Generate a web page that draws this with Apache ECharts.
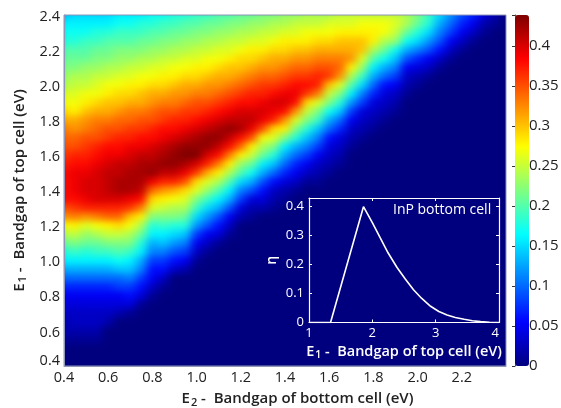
<!DOCTYPE html>
<html><head><meta charset="utf-8">
<style>
html,body{margin:0;padding:0;background:#fff;width:561px;height:408px;overflow:hidden}
#clip{position:absolute;left:64px;top:15px;width:442px;height:351px;overflow:hidden;background:#00007f}
#heat{position:absolute;left:-30px;top:-30px;width:502px;height:411px;filter:url(#soft)}
#main{position:absolute;left:0;top:0;width:561px;height:408px}
</style>
<script src="https://cdn.jsdelivr.net/npm/echarts@6/dist/echarts.min.js"></script>
</head><body>
<svg width="0" height="0" style="position:absolute"><filter id="soft" x="-10%" y="-10%" width="120%" height="120%" color-interpolation-filters="sRGB"><feGaussianBlur stdDeviation="4.5 3"/></filter></svg>
<div id="clip"><div id="heat"></div></div>
<div id="main"></div>
<script>
// Efficiency in percent. Each list is one E2 column, read from E1 = 2.40 downward in 0.05 steps; a list stops where the map turns to zero.
const e2_040=[14,16,17,18,20,21,22,23,24,26,27,29,31,33,34,35,36,37,38,38,38,38,35,32,27,24,21,18,16,13,10,7,5,4,3,2,2,1];
const e2_045=[15,16,17,18,20,21,22,24,25,26,27,28,31,32,34,35,37,38,39,39,39,38,36,33,28,25,22,19,16,13,10,7,5,4,3,3,2,1];
const e2_050=[15,16,17,19,20,21,23,24,25,27,28,30,32,33,35,36,37,38,39,40,40,39,37,32,26,23,21,18,16,13,10,7,5,4,3,3,2,1];
const e2_055=[15,16,18,19,21,22,23,25,26,27,29,31,33,34,35,37,38,39,40,40,40,40,37,33,27,24,21,19,16,13,10,7,5,4,3,3,2,1];
const e2_060=[15,16,18,20,21,22,24,25,27,28,30,31,33,35,36,38,39,40,41,41,41,40,37,34,28,25,22,19,16,13,10,7,5,4,3,2];
const e2_065=[16,17,19,20,22,23,24,26,27,29,30,32,34,35,37,38,39,41,41,42,42,40,37,34,29,25,22,20,17,14,10,8,5,4,2];
const e2_070=[16,17,19,20,22,23,25,26,28,29,31,33,34,36,37,39,40,41,42,42,42,39,36,30,27,24,22,19,16,14,11,8,6,4,1];
const e2_075=[16,18,19,21,22,24,25,27,28,30,31,33,35,36,38,39,41,42,42,42,41,38,33,28,24,21,18,16,13,11,8,6,4,1];
const e2_080=[17,18,20,21,23,24,26,27,29,31,32,34,35,37,38,40,41,42,43,39,34,29,26,22,18,16,13,11,8,6,5,3,1];
const e2_085=[17,19,20,22,23,25,26,28,29,31,33,35,36,38,39,41,42,43,41,37,32,28,25,22,19,16,14,11,8,6,3,1];
const e2_090=[18,19,21,22,24,25,27,28,30,32,33,35,37,38,40,42,43,43,41,37,31,27,24,22,18,15,12,9,6,3];
const e2_095=[18,20,21,23,24,26,27,29,31,32,34,36,37,39,41,43,44,42,39,35,29,26,24,21,18,14,11,8,5,2];
const e2_100=[19,20,22,23,25,26,28,29,31,33,35,36,38,40,42,43,44,40,36,29,26,22,19,15,12,8,5,3,1];
const e2_105=[19,21,22,24,25,27,28,30,32,33,35,37,39,41,43,43,40,37,31,26,23,19,15,12,9,5,3,1];
const e2_110=[20,21,23,24,26,27,29,31,32,34,36,38,40,42,43,41,38,33,28,24,20,16,13,9,6,4,1];
const e2_115=[20,22,23,25,26,28,30,31,33,35,37,39,41,43,41,38,33,28,24,20,16,13,9,5,3,1];
const e2_120=[21,22,24,25,27,29,30,32,34,36,38,40,41,42,38,34,28,23,20,15,11,8,4,2];
const e2_125=[21,23,24,26,28,29,31,33,35,37,38,40,41,39,35,28,25,21,17,13,9,4,2,1];
const e2_130=[22,23,25,26,28,30,32,34,36,37,39,40,39,35,27,24,21,16,13,9,6,4,2];
const e2_135=[22,24,25,27,29,31,32,34,36,38,40,39,37,29,26,22,18,14,10,6,3,2,1];
const e2_140=[23,24,26,28,29,31,33,35,37,39,40,38,32,28,22,16,13,10,7,4,2,1];
const e2_145=[23,25,26,28,30,32,34,36,38,39,38,32,26,22,18,13,10,7,5,3,1];
const e2_150=[24,25,27,28,30,32,34,36,38,36,29,25,22,18,14,11,8,5,3,1];
const e2_155=[24,25,27,29,31,33,35,37,37,33,26,22,19,14,11,8,5,3,2,1];
const e2_160=[24,26,27,29,31,33,35,36,30,25,22,17,13,10,6,4,3,2,1];
const e2_165=[25,26,28,30,31,33,34,32,26,22,18,14,10,7,4,3,2,1];
const e2_170=[25,26,28,30,31,32,28,24,20,16,12,8,5,3,2,1];
const e2_175=[25,27,28,30,30,26,23,19,15,11,8,4,3,2,1];
const e2_180=[25,27,28,28,24,20,16,13,10,7,4,3,2,1];
const e2_185=[25,27,27,24,21,17,13,10,6,4,3,2,1];
const e2_190=[25,26,25,23,17,14,11,8,5,3,2,1];
const e2_195=[24,24,21,17,13,9,5,3,2,1];
const e2_200=[22,21,18,15,11,7,4,2,1];
const e2_205=[19,18,15,12,9,5,3,1];
const e2_210=[15,13,11,9,6,3,1];
const e2_215=[12,10,8,5,3,1];
const e2_220=[9,7,5,3,1];
const e2_225=[7,5,3,1];
const e2_230=[4,2,1];
const e2_235=[2,1];
const e2_240=[0];
const e2Columns=[e2_040,e2_045,e2_050,e2_055,e2_060,e2_065,e2_070,e2_075,e2_080,e2_085,e2_090,e2_095,e2_100,e2_105,e2_110,e2_115,e2_120,e2_125,e2_130,e2_135,e2_140,e2_145,e2_150,e2_155,e2_160,e2_165,e2_170,e2_175,e2_180,e2_185,e2_190,e2_195,e2_200,e2_205,e2_210,e2_215,e2_220,e2_225,e2_230,e2_235,e2_240];
const e2Categories=[0.40,0.45,0.50,0.55,0.60,0.65,0.70,0.75,0.80,0.85,0.90,0.95,1.00,1.05,1.10,1.15,1.20,1.25,1.30,1.35,1.40,1.45,1.50,1.55,1.60,1.65,1.70,1.75,1.80,1.85,1.90,1.95,2.00,2.05,2.10,2.15,2.20,2.25,2.30,2.35,2.40];
const e1Categories=[2.40,2.35,2.30,2.25,2.20,2.15,2.10,2.05,2.00,1.95,1.90,1.85,1.80,1.75,1.70,1.65,1.60,1.55,1.50,1.45,1.40,1.35,1.30,1.25,1.20,1.15,1.10,1.05,1.00,0.95,0.90,0.85,0.80,0.75,0.70,0.65,0.60,0.55,0.50,0.45,0.40];
const colorbarMax=0.439;
const colorbarTicks=['0','0.05','0.1','0.15','0.2','0.25','0.3','0.35','0.4'];
const insetE1=[1,1.34,1.86,2,2.125,2.25,2.39,2.52,2.65,2.78,2.92,3.05,3.18,3.31,3.45,3.58,3.71,3.85,4];
const insetEta=[0,0,0.4,0.345,0.292,0.24,0.19,0.15,0.113,0.083,0.056,0.038,0.026,0.017,0.011,0.006,0.003,0.001,0];
const jet=['#00007f','#0000ff','#0080ff','#00ffff','#80ff80','#ffff00','#ff8000','#ff0000','#7f0000'];
const font='"Open Sans",sans-serif';

const cells=[];
e2Columns.forEach((col,i)=>{e1Categories.forEach((e1,j)=>{cells.push([i,j,(col[j]||0)/100]);});});

const heat=echarts.init(document.getElementById('heat'),null,{renderer:'canvas'});
heat.setOption({
  animation:false,
  backgroundColor:'#00007f',
  grid:{left:30-5.525,top:30-4.39,width:442+11.05,height:351+8.78,outerBoundsMode:'none'},
  xAxis:{type:'category',data:e2Categories,show:false},
  yAxis:{type:'category',data:e1Categories,inverse:true,show:false},
  visualMap:{show:false,type:'continuous',min:0,max:colorbarMax,inRange:{color:jet},seriesIndex:0},
  series:[{type:'heatmap',data:cells,progressive:0,silent:true,itemStyle:{borderWidth:0}}]
});

const name2='{n|E}{s|2}{n| -  Bandgap of bottom cell (eV)}';
const name1='{n|E}{s|1}{n| -  Bandgap of top cell (eV)}';
function rich(color,size){return {n:{fontFamily:font,fontSize:size,fontWeight:600,color:color},
  s:{fontFamily:font,fontSize:size-4,fontWeight:600,color:color,verticalAlign:'bottom',padding:[7,0,0,1]}};}
const yTick={fontFamily:font,fontSize:14.5,color:'#222'};
const chart=echarts.init(document.getElementById('main'),null,{renderer:'canvas'});
chart.setOption({
  animation:false,
  backgroundColor:'transparent',
  textStyle:{fontFamily:font},
  grid:[
    {left:64,top:15,width:442,height:351,outerBoundsMode:'none',show:true,backgroundColor:'transparent',borderColor:'#8f96b8',borderWidth:1},
    {left:515,top:15,width:14,height:351,outerBoundsMode:'none',show:false},
    {left:309,top:198,width:190,height:124.5,outerBoundsMode:'none',show:false}
  ],
  xAxis:[
    {gridIndex:0,type:'value',min:0.4,max:2.4,interval:0.2,splitLine:{show:false},axisTick:{show:false},
     axisLine:{onZero:false,lineStyle:{color:'#8f96b8'}},
     axisLabel:{color:'#222',fontSize:14.5,margin:4,formatter:v=>v>2.3?'':v.toFixed(1)},
     name:name2,nameLocation:'middle',nameGap:24,nameTextStyle:{padding:[0,0,0,25],rich:rich('#222',15)}},
    {gridIndex:1,type:'value',min:0,max:1,show:false},
    {gridIndex:2,type:'value',min:1,max:4,interval:1,splitLine:{show:false},
     axisLine:{onZero:false,lineStyle:{color:'#fff',width:1.2}},
     axisTick:{inside:true,length:3,lineStyle:{color:'#fff'}},
     axisLabel:{color:'#fff',fontSize:13,margin:4,alignMaxLabel:'right'},
     name:name1,nameLocation:'middle',nameGap:20,nameTextStyle:{rich:rich('#fff',14.5)}},
    {gridIndex:2,type:'value',min:1,max:4,interval:1,position:'top',splitLine:{show:false},
     axisLine:{onZero:false,lineStyle:{color:'#fff',width:1.2}},
     axisTick:{inside:true,length:3,lineStyle:{color:'#fff'}},axisLabel:{show:false}}
  ],
  yAxis:[
    {gridIndex:0,type:'value',min:0.4,max:2.4,interval:0.2,splitLine:{show:false},axisTick:{show:false},
     axisLine:{onZero:false,lineStyle:{color:'#8f96b8'}},
     axisLabel:{margin:4,formatter:v=>{const t=v.toFixed(1);return v<0.5?'{low|'+t+'}':v>2.3?'{high|'+t+'}':'{mid|'+t+'}';},
       rich:{low:{...yTick,padding:[0,0,10,0]},mid:{...yTick,padding:[3,0,0,0]},high:{...yTick,padding:[4,0,0,0]}}},
     name:name1,nameLocation:'middle',nameGap:35,nameTextStyle:{rich:rich('#222',15)}},
    {gridIndex:1,type:'value',min:0,max:colorbarMax,interval:0.05,position:'right',splitLine:{show:false},
     axisLine:{show:true,lineStyle:{color:'#444'}},
     axisTick:{show:true,inside:true,length:3,lineStyle:{color:'#333'}},
     axisLabel:{color:'#222',fontSize:15,margin:0,formatter:(v,i)=>colorbarTicks[i]}},
    {gridIndex:2,type:'value',min:0,max:0.43,interval:0.1,splitLine:{show:false},
     axisLine:{onZero:false,lineStyle:{color:'#fff',width:1.2}},
     axisTick:{inside:true,length:3,lineStyle:{color:'#fff'}},
     axisLabel:{color:'#fff',fontSize:13,margin:5,formatter:v=>v===0?'0':v.toFixed(1)},
     name:'η',nameLocation:'middle',nameGap:30,nameRotate:90,nameTextStyle:{color:'#fff',fontSize:14,fontWeight:600,fontFamily:font}},
    {gridIndex:2,type:'value',min:0,max:0.43,interval:0.1,position:'right',splitLine:{show:false},
     axisLine:{onZero:false,lineStyle:{color:'#fff',width:1.2}},
     axisTick:{inside:true,length:3,lineStyle:{color:'#fff'}},axisLabel:{show:false}}
  ],
  visualMap:{type:'continuous',min:0,max:colorbarMax,inRange:{color:jet},seriesIndex:[],left:515,top:15,itemWidth:14,itemHeight:351,padding:0,calculable:false,text:null,realtime:false},
  graphic:[{type:'text',left:393,top:203,silent:true,style:{text:'InP bottom cell',fill:'#fff',font:'14px "Open Sans",sans-serif'}}],
  series:[{type:'line',xAxisIndex:2,yAxisIndex:2,data:insetE1.map((x,i)=>[x,insetEta[i]]),showSymbol:false,smooth:false,silent:true,lineStyle:{color:'#fff',width:1.6},itemStyle:{color:'#fff'}}]
});
</script>
</body></html>
